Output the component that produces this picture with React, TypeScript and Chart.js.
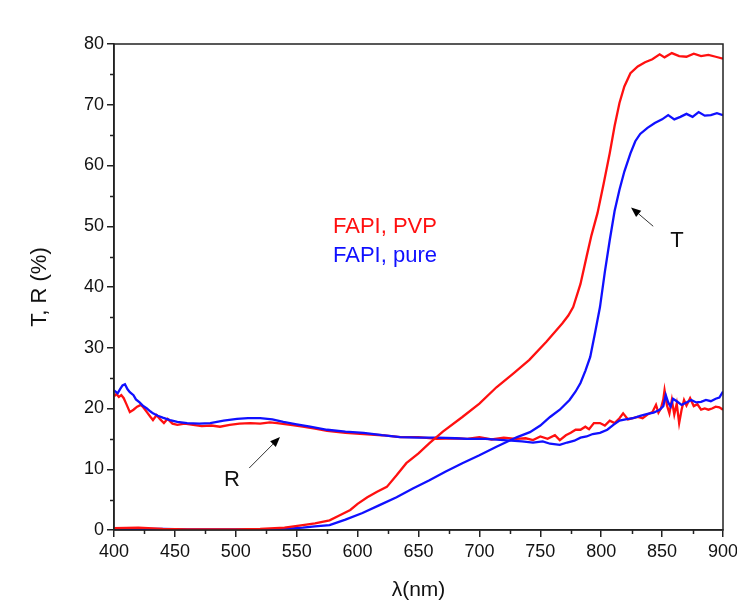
import React, { useEffect, useRef } from 'react';
import { Chart, registerables } from 'chart.js';

Chart.register(...registerables);

// Transmittance, FAPI + PVP (red)
const tPvpNm = [400, 420, 440, 460, 480, 500, 520, 540, 555, 565, 577, 585, 594, 600, 608, 616, 624, 632, 640, 650, 659, 670, 686, 700, 714, 728, 741, 755, 768, 773, 777, 783, 788, 792, 797, 802, 807, 811, 815, 819, 824, 830, 836, 842, 848, 852, 858, 864, 870, 876, 882, 888, 894, 900];
const tPvp = [0.3, 0.4, 0.2, 0.1, 0.1, 0.1, 0.2, 0.4, 0.8, 1.1, 1.6, 2.4, 3.3, 4.3, 5.4, 6.3, 7.1, 9.0, 11, 12.6, 14.3, 16.2, 18.6, 20.8, 23.5, 25.8, 28, 31, 34, 35.3, 36.7, 40.5, 45, 48.5, 52.2, 57, 62, 66.5, 70.3, 73, 75.2, 76.3, 77, 77.5, 78.3, 77.8, 78.5, 78.0, 77.9, 78.4, 78.0, 78.2, 77.9, 77.6];

// Transmittance, FAPI pure (blue)
const tPureNm = [400, 420, 440, 460, 480, 500, 520, 540, 555, 565, 577, 590, 604, 618, 632, 645, 659, 672, 686, 700, 714, 731, 741.5, 750, 758, 766, 774, 779, 783, 787, 791, 795, 799, 803, 807, 811, 815, 819, 824, 828, 832, 838, 844, 850, 855, 860, 865, 870, 875, 880, 885, 890, 895, 900];
const tPure = [0.3, 0.2, 0.2, 0.1, 0.1, 0.1, 0.1, 0.2, 0.4, 0.6, 0.8, 1.7, 2.8, 4.1, 5.4, 6.8, 8.2, 9.6, 11, 12.3, 13.7, 15.3, 16.1, 17.2, 18.6, 19.8, 21.4, 22.8, 24.2, 26.2, 28.5, 32.5, 36.7, 42.5, 47.7, 52.5, 56, 59, 62, 64, 65.2, 66.2, 67, 67.6, 68.3, 67.6, 68, 68.5, 68.0, 68.8, 68.2, 68.3, 68.6, 68.3];

// Reflectance, FAPI pure (blue)
const rPureNm = [400, 403, 405, 407, 409, 411, 413, 416, 418, 421, 424, 427, 430, 432, 436, 440, 446, 452, 460, 470, 479, 490, 501, 510, 520, 530, 539, 550, 561, 575, 590, 605, 620, 635, 650, 665, 680, 690, 705, 720, 735, 744, 752, 758, 766, 772, 778, 783, 788, 793, 799, 805, 810, 815, 820, 826, 832, 838, 843, 848, 851, 853, 855, 857, 859, 862, 866, 870, 874, 878, 882, 886, 890, 894, 897, 900];
const rPure = [23, 22.5, 23.2, 23.8, 24, 23.2, 22.7, 22.2, 21.5, 21, 20.4, 20, 19.5, 19.2, 18.8, 18.5, 18.1, 17.8, 17.6, 17.5, 17.6, 18.0, 18.3, 18.4, 18.4, 18.2, 17.8, 17.4, 17, 16.5, 16.2, 16, 15.6, 15.3, 15.2, 15.2, 15.1, 15.0, 15, 14.8, 14.6, 14.4, 14.6, 14.2, 14.0, 14.4, 14.7, 15.2, 15.4, 15.8, 16.0, 16.5, 17.3, 18, 18.2, 18.4, 18.8, 19.1, 19.3, 19.8, 20.4, 22.2, 21.0, 20.3, 21.6, 21.2, 20.6, 21.0, 21.4, 21.0, 21.1, 21.4, 21.2, 21.6, 21.8, 22.8];

// Reflectance, FAPI + PVP (red)
const rPvpNm = [400, 402, 404, 406, 408, 410, 413, 416, 419, 422, 424, 427, 430, 432, 435, 438, 441, 444, 448, 452, 458, 465, 472, 480, 487, 495, 503, 512, 520, 528, 534, 545, 555, 565, 575, 590, 605, 620, 635, 650, 665, 680, 690, 700, 710, 720, 730, 738, 744, 750, 756, 762, 766, 771, 775, 779, 783, 787, 790, 794, 799, 803, 807, 811, 815, 818, 822, 826, 830, 834, 838, 842, 845, 847, 849, 851, 852, 854, 856, 858, 860, 862, 864, 866, 868, 870, 873, 876, 879, 882, 885, 888, 891, 894, 897, 900];
const rPvp = [22, 22.4, 21.9, 22.2, 21.7, 20.8, 19.4, 19.8, 20.3, 20.6, 20.2, 19.4, 18.6, 18.1, 18.9, 18.2, 17.6, 18.3, 17.5, 17.3, 17.5, 17.3, 17.1, 17.2, 17.0, 17.3, 17.5, 17.6, 17.5, 17.7, 17.6, 17.3, 17.0, 16.7, 16.3, 16.0, 15.8, 15.6, 15.3, 15.3, 15.0, 15.1, 15.0, 15.3, 14.9, 15.2, 15.0, 15.1, 14.8, 15.4, 15.0, 15.6, 14.8, 15.6, 16.0, 16.5, 16.5, 17.0, 16.6, 17.6, 17.6, 17.2, 18.0, 17.6, 18.4, 19.2, 18.2, 18.4, 18.6, 18.4, 19.0, 19.4, 20.6, 19.3, 20.0, 21.5, 23.0, 20.5, 19.2, 21.4, 19.0, 20.8, 17.6, 19.8, 21.4, 20.5, 21.7, 20.4, 20.7, 19.8, 20.0, 19.8, 20.0, 20.3, 20.2, 19.8];

const seriesColors = { pvp: '#ff1010', pure: '#1010ff' };

const legendLabels = ['FAPI, PVP', 'FAPI, pure'];
// annotation anchors in data units [nm, %]
const legendAnchor = [579.8, 48.9, 44.1];
const tLabel = { text: 'T', at: [862.2, 46.6], tail: [842.7, 50.0], tip: [824.5, 53.1] };
const rLabel = { text: 'R', at: [496.9, 7.2], tail: [511, 10.2], tip: [536.3, 15.3] };

const xMin = 400, xMax = 900, xStep = 50;
const yMin = 0, yMax = 80, yStep = 10;

const toPts = (xs: number[], ys: number[]) => xs.map((x, i) => ({ x, y: ys[i] }));

const FONT = '"Liberation Sans", Arial, sans-serif';

const decorPlugin = {
  id: 'decor',
  afterDatasetsDraw(chart: any) {
    const { ctx, chartArea, scales } = chart;
    const xs = scales.x, ys = scales.y;
    ctx.save();
    // frame
    ctx.strokeStyle = '#222';
    ctx.lineWidth = 1.5;
    ctx.strokeRect(chartArea.left, chartArea.top, chartArea.right - chartArea.left, chartArea.bottom - chartArea.top);
    // minor ticks
    ctx.beginPath();
    for (let v = xMin + xStep / 2; v < xMax; v += xStep) {
      const p = Math.round(xs.getPixelForValue(v)) + 0.5;
      ctx.moveTo(p, chartArea.bottom);
      ctx.lineTo(p, chartArea.bottom + 4);
    }
    for (let v = yMin + yStep / 2; v < yMax; v += yStep) {
      const p = Math.round(ys.getPixelForValue(v)) + 0.5;
      ctx.moveTo(chartArea.left, p);
      ctx.lineTo(chartArea.left - 4, p);
    }
    ctx.stroke();

    // legend-like text
    ctx.font = `22px ${FONT}`;
    ctx.textAlign = 'left';
    ctx.textBaseline = 'alphabetic';
    ctx.fillStyle = seriesColors.pvp;
    ctx.fillText(legendLabels[0], xs.getPixelForValue(legendAnchor[0]), ys.getPixelForValue(legendAnchor[1]));
    ctx.fillStyle = seriesColors.pure;
    ctx.fillText(legendLabels[1], xs.getPixelForValue(legendAnchor[0]), ys.getPixelForValue(legendAnchor[2]));

    // T / R labels with arrows
    for (const lab of [tLabel, rLabel]) {
      ctx.fillStyle = '#111';
      ctx.textAlign = 'center';
      ctx.fillText(lab.text, xs.getPixelForValue(lab.at[0]), ys.getPixelForValue(lab.at[1]));
      const x0 = xs.getPixelForValue(lab.tail[0]), y0 = ys.getPixelForValue(lab.tail[1]);
      const x1 = xs.getPixelForValue(lab.tip[0]), y1 = ys.getPixelForValue(lab.tip[1]);
      const ang = Math.atan2(y1 - y0, x1 - x0);
      const hl = 10, hw = 4;
      ctx.strokeStyle = '#333';
      ctx.lineWidth = 1;
      ctx.beginPath();
      ctx.moveTo(x0, y0);
      ctx.lineTo(x1 - hl * Math.cos(ang), y1 - hl * Math.sin(ang));
      ctx.stroke();
      ctx.fillStyle = '#000';
      ctx.beginPath();
      ctx.moveTo(x1, y1);
      ctx.lineTo(x1 - hl * Math.cos(ang) + hw * Math.sin(ang), y1 - hl * Math.sin(ang) - hw * Math.cos(ang));
      ctx.lineTo(x1 - hl * Math.cos(ang) - hw * Math.sin(ang), y1 - hl * Math.sin(ang) + hw * Math.cos(ang));
      ctx.closePath();
      ctx.fill();
    }
    ctx.restore();
  },
};

export default function App() {
  const ref = useRef<HTMLCanvasElement | null>(null);
  useEffect(() => {
    if (!ref.current) return;
    const ds = (label: string, xs: number[], ys: number[], color: string) => ({
      label,
      data: toPts(xs, ys),
      borderColor: color,
      backgroundColor: color,
      borderWidth: 2.3,
      pointRadius: 0,
      tension: 0,
      fill: false,
    });
    const chart = new Chart(ref.current, {
      type: 'line',
      data: {
        datasets: [
          ds('T FAPI, PVP', tPvpNm, tPvp, seriesColors.pvp),
          ds('T FAPI, pure', tPureNm, tPure, seriesColors.pure),
          ds('R FAPI, pure', rPureNm, rPure, seriesColors.pure),
          ds('R FAPI, PVP', rPvpNm, rPvp, seriesColors.pvp),
        ],
      },
      options: {
        animation: false,
        responsive: false,
        devicePixelRatio: 1,
        layout: { padding: { top: 44, right: 37, left: 0, bottom: 0 } },
        plugins: { legend: { display: false }, tooltip: { enabled: false } },
        scales: {
          x: {
            type: 'linear',
            min: xMin,
            max: xMax,
            afterFit: (s: any) => { s.height = 78; },
            ticks: {
              stepSize: xStep,
              autoSkip: false,
              maxRotation: 0,
              padding: 4,
              color: '#111',
              font: { family: FONT, size: 18 },
            },
            grid: { drawOnChartArea: false, drawTicks: true, tickLength: 7, color: '#222', lineWidth: 1.5 },
            border: { display: true, color: '#222', width: 1.5 },
            title: {
              display: true,
              text: 'λ(nm)',
              color: '#111',
              font: { family: FONT, size: 21 },
              padding: { top: 0, bottom: 5 },
            },
          },
          y: {
            type: 'linear',
            min: yMin,
            max: yMax,
            afterFit: (s: any) => { s.width = 114; },
            ticks: {
              stepSize: yStep,
              autoSkip: false,
              padding: 3,
              color: '#111',
              font: { family: FONT, size: 18 },
            },
            grid: { drawOnChartArea: false, drawTicks: true, tickLength: 7, color: '#222', lineWidth: 1.5 },
            border: { display: true, color: '#222', width: 1.5 },
            title: {
              display: true,
              text: 'T, R (%)',
              color: '#111',
              font: { family: FONT, size: 22 },
              padding: { top: 27, bottom: 0 },
            },
          },
        },
      },
      plugins: [decorPlugin],
    } as any);
    return () => chart.destroy();
  }, []);

  return (
    <div style={{ position: 'fixed', left: 0, top: 0, width: 737, height: 608, overflow: 'hidden', background: '#fff' }}>
      <canvas ref={ref} width={760} height={608} style={{ width: 760, height: 608, display: 'block' }} />
    </div>
  );
}
